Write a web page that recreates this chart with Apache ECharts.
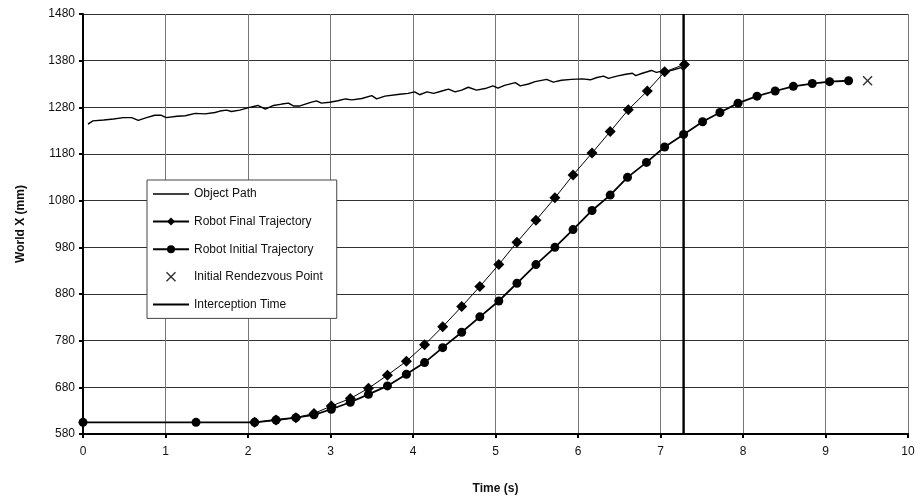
<!DOCTYPE html>
<html>
<head>
<meta charset="utf-8">
<script src="https://cdn.jsdelivr.net/npm/echarts@6/dist/echarts.min.js"></script>
<style>
  html, body {margin: 0; padding: 0; background: #fff;}
  #main {width: 921px; height: 501px;}
</style>
</head>
<body>
<div id="main"></div>
<script>
// object path: [time (s), world X (mm)]
const objectPath = [
  [0.06, 1244], [0.12, 1251], [0.25, 1253], [0.37, 1255], [0.49, 1258], [0.59, 1258],
  [0.67, 1252], [0.77, 1258], [0.87, 1263], [0.95, 1263], [1.01, 1258], [1.14, 1261],
  [1.24, 1262], [1.36, 1267], [1.48, 1266], [1.60, 1269], [1.66, 1272], [1.74, 1274],
  [1.80, 1271], [1.90, 1274], [2.02, 1280], [2.12, 1284], [2.21, 1276], [2.31, 1284],
  [2.41, 1287], [2.49, 1289], [2.55, 1283], [2.63, 1283], [2.75, 1290], [2.83, 1294],
  [2.89, 1289], [2.99, 1291], [3.09, 1294], [3.18, 1298], [3.26, 1296], [3.38, 1299],
  [3.50, 1305], [3.56, 1298], [3.66, 1304], [3.84, 1308], [3.94, 1310], [4.02, 1313],
  [4.08, 1307], [4.17, 1313], [4.25, 1310], [4.35, 1315], [4.43, 1319], [4.51, 1313],
  [4.59, 1317], [4.67, 1323], [4.77, 1317], [4.89, 1321], [4.97, 1326], [5.03, 1321],
  [5.11, 1327], [5.24, 1333], [5.30, 1326], [5.40, 1330], [5.48, 1335], [5.62, 1340],
  [5.70, 1334], [5.80, 1338], [5.92, 1340], [6.05, 1341], [6.15, 1339], [6.23, 1344],
  [6.31, 1347], [6.37, 1342], [6.47, 1347], [6.58, 1351], [6.66, 1353], [6.70, 1348],
  [6.78, 1353], [6.89, 1359], [6.95, 1355], [7.03, 1358], [7.11, 1358], [7.17, 1361],
  [7.25, 1365], [7.28, 1359]
];

const initialTimes = [0, 1.37, 2.08, 2.34, 2.58, 2.80, 3.01, 3.24, 3.46, 3.69, 3.92, 4.14,
  4.36, 4.59, 4.81, 5.04, 5.26, 5.49, 5.72, 5.94, 6.17, 6.39, 6.60, 6.83, 7.05, 7.28,
  7.51, 7.72, 7.94, 8.17, 8.39, 8.61, 8.84, 9.05, 9.28];
const initialX = [605, 605, 605, 610, 615, 621, 633, 648, 665, 683, 708, 733,
  765, 798, 831, 865, 903, 943, 980, 1018, 1059, 1092, 1130, 1162, 1195, 1222,
  1249, 1269, 1289, 1304, 1315, 1325, 1331, 1335, 1337];

const finalTimes = [2.08, 2.34, 2.58, 2.80, 3.01, 3.24, 3.46, 3.69, 3.92, 4.14, 4.36, 4.59,
  4.81, 5.04, 5.26, 5.49, 5.72, 5.94, 6.17, 6.39, 6.61, 6.84, 7.05, 7.29];
const finalX = [605, 610, 615, 624, 640, 656, 678, 706, 736, 771, 810, 853,
  896, 943, 991, 1038, 1086, 1135, 1182, 1228, 1275, 1315, 1356, 1372];

const rendezvous = [[9.51, 1337]];
const interceptionTime = 7.28;
const yRange = [580, 1480];

const zip = (a, b) => a.map((v, i) => [v, b[i]]);
const crossPath = 'path://M0,1L1,0L5,4L9,0L10,1L6,5L10,9L9,10L5,6L1,10L0,9L4,5Z';
// plain line icons for legend (corner moves keep the 36x10 box)
const thinLineIcon = 'path://M0,0L0,0M0,4.2L36,4.2L36,5.8L0,5.8ZM36,10L36,10';
const thickLineIcon = 'path://M0,0L0,0M0,4L36,4L36,6L0,6ZM36,10L36,10';
const font = 'Liberation Sans, Arial, sans-serif';

let chart = echarts.init(document.getElementById('main'));
let option = {
  backgroundColor: '#fff',
  animation: false,
  grid: {left: 83, right: 13, top: 14, bottom: 67},
  legend: {
    orient: 'vertical',
    left: 147,
    top: 180,
    padding: [8, 14, 8, 5],
    itemWidth: 36,
    itemHeight: 10,
    itemGap: 15.6,
    backgroundColor: '#fff',
    borderColor: '#444',
    borderWidth: 1,
    textStyle: {fontFamily: font, fontSize: 12, color: '#111'},
    data: [
      {name: 'Object Path', icon: thinLineIcon},
      'Robot Final Trajectory',
      'Robot Initial Trajectory',
      'Initial Rendezvous Point',
      {name: 'Interception Time', icon: thickLineIcon}
    ]
  },
  xAxis: {
    type: 'value',
    min: 0, max: 10, interval: 1,
    name: 'Time (s)',
    nameLocation: 'middle',
    nameGap: 49,
    nameTextStyle: {fontFamily: font, fontSize: 12, fontWeight: 'bold', color: '#111'},
    axisLine: {onZero: false, lineStyle: {color: '#000', width: 2}},
    axisTick: {length: 4, lineStyle: {color: '#000', width: 2}},
    axisLabel: {fontFamily: font, fontSize: 12, color: '#111', margin: 12},
    splitLine: {show: true, lineStyle: {color: '#777', width: 1}}
  },
  yAxis: {
    type: 'value',
    min: yRange[0], max: yRange[1], interval: 100,
    name: 'World X (mm)',
    nameLocation: 'middle',
    nameGap: 56,
    nameTextStyle: {fontFamily: font, fontSize: 12, fontWeight: 'bold', color: '#111'},
    axisLine: {onZero: false, lineStyle: {color: '#000', width: 2}},
    axisTick: {length: 4, lineStyle: {color: '#000', width: 2}},
    axisLabel: {fontFamily: font, fontSize: 12, color: '#111', margin: 8, formatter: v => String(v)},
    splitLine: {show: true, lineStyle: {color: '#333', width: 1}}
  },
  series: [
    {
      name: 'Object Path',
      type: 'line',
      data: objectPath,
      showSymbol: false,
      symbol: 'none',
      lineStyle: {color: '#000', width: 1.4},
      itemStyle: {color: '#000'},
      z: 3
    },
    {
      name: 'Robot Final Trajectory',
      type: 'line',
      data: zip(finalTimes, finalX),
      symbol: 'diamond',
      symbolSize: 11,
      lineStyle: {color: '#000', width: 1},
      itemStyle: {color: '#000'},
      z: 4
    },
    {
      name: 'Robot Initial Trajectory',
      type: 'line',
      data: zip(initialTimes, initialX),
      symbol: 'circle',
      symbolSize: 9,
      lineStyle: {color: '#000', width: 1.8},
      itemStyle: {color: '#000'},
      z: 5
    },
    {
      name: 'Initial Rendezvous Point',
      type: 'scatter',
      data: rendezvous,
      symbol: crossPath,
      symbolSize: 10,
      itemStyle: {color: '#000'},
      z: 5
    },
    {
      name: 'Interception Time',
      type: 'line',
      data: [[interceptionTime, yRange[0]], [interceptionTime, yRange[1]]],
      symbol: 'none',
      lineStyle: {color: '#000', width: 2.4},
      itemStyle: {color: '#000'},
      z: 6
    }
  ]
};
option && chart.setOption(option);
</script>
</body>
</html>
